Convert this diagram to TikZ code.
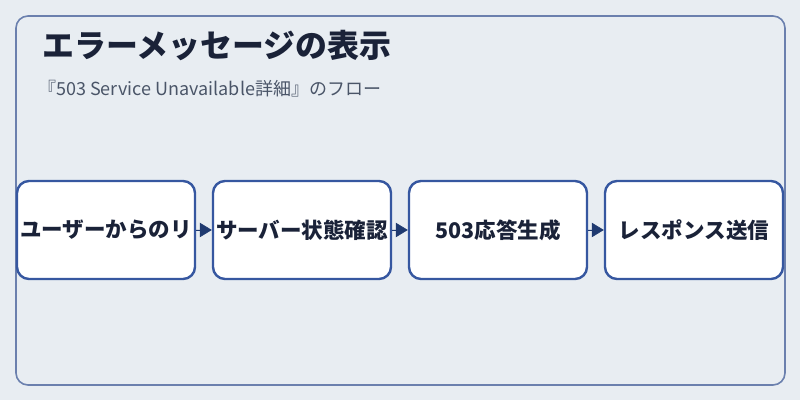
\documentclass[tikz,border=0pt]{standalone}
\usepackage{fontspec}
\setmainfont{Noto Sans CJK JP}
\usetikzlibrary{arrows.meta}
\definecolor{bgcol}{HTML}{E8EDF2}
\definecolor{framecol}{HTML}{6B80AE}
\definecolor{boxcol}{HTML}{3657A0}
\definecolor{inkcol}{HTML}{1A2238}
\definecolor{subcol}{HTML}{4A5568}
\definecolor{arrowcol}{HTML}{1F3A70}
\begin{document}
\begin{tikzpicture}[
    stepbox/.style={rectangle, rounded corners=0.3cm, draw=boxcol, line width=0.06cm, fill=white,
        minimum width=4.45cm, minimum height=2.45cm, inner sep=0pt,
        font=\fontsize{15.3pt}{18pt}\selectfont\bfseries, text=inkcol},
    flow/.style={-{Triangle[length=0.3cm, width=0.36cm]}, draw=arrowcol, fill=arrowcol, line width=0.4pt}
]
        % Background and frame
        \fill[bgcol] (0, 0) rectangle (20, 10);
        \useasboundingbox (0, 0) rectangle (20, 10);
        \draw[framecol, line width=0.04cm, rounded corners=0.3cm] (0.4, 0.375) rectangle (19.625, 9.6);

        % Titles
        \node[anchor=west, inner sep=0pt, text=inkcol, font=\fontsize{22.7pt}{26pt}\selectfont\bfseries] at (1.05, 8.85) (title) {エラーメッセージの表示};
        \node[anchor=west, inner sep=0pt, text=subcol, font=\fontsize{12.8pt}{15pt}\selectfont] at (0.95, 7.775) (subtitle) {『503 Service Unavailable詳細』のフロー};

        % Nodes
        \node[stepbox] at (2.65, 4.25)  (req)    {ユーザーからのリ};
        \node[stepbox] at (7.55, 4.25)  (check)  {サーバー状態確認};
        \node[stepbox] at (12.45, 4.25) (gen)    {503応答生成};
        \node[stepbox] at (17.35, 4.25) (send)   {レスポンス送信};

        \draw[flow]  (req) -- (check);
        \draw[flow]  (check) -- (gen);
        \draw[flow]  (gen) -- (send);
    \end{tikzpicture}
\end{document}
